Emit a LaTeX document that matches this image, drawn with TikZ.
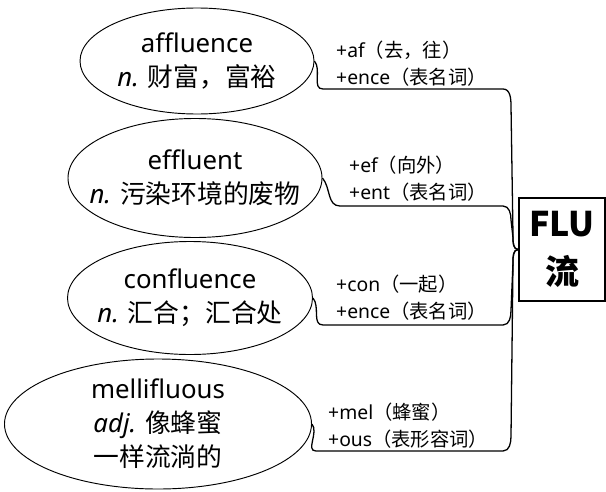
\documentclass[tikz,border=0pt]{standalone}
\usepackage{fontspec}
\setmainfont{Noto Sans}
\newfontfamily\cjk{Noto Sans CJK SC}
\newcommand{\zh}[1]{{\cjk #1}}
\usepackage{tikz}
\usetikzlibrary{shapes.geometric}
\tikzset{
    word/.style={ellipse, draw=black, line width=0.8pt, inner sep=0pt},
    wordtext/.style={align=center, inner sep=0pt, font=\fontsize{22}{29}\selectfont},
    part/.style={anchor=west, align=left, inner sep=0pt, font=\fontsize{16.5}{23}\selectfont},
    root/.style={rectangle, draw=black, line width=1.2pt, align=center, inner sep=0pt, font=\cjk\bfseries\fontsize{29}{41}\selectfont},
    branch/.style={line width=1.1pt}
}

\begin{document}
\begin{tikzpicture}[x=0.3mm, y=-0.3mm]
    \useasboundingbox (0,0) rectangle (606,491);

    \node (flu) [root, minimum width=25.8mm, minimum height=30.9mm] at (562,249.5) {FLU\\流};

    \node (aff) [word, minimum width=70.2mm, minimum height=31.8mm,
        label={[wordtext]center:{affluence\\\textit{n.} \zh{财富，富裕}}}] at (197,61) {};
    \node (eff) [word, minimum width=76.2mm, minimum height=35.7mm,
        label={[wordtext]center:{effluent\\\textit{n.} \zh{污染环境的废物}}}] at (195,178) {};
    \node (con) [word, minimum width=73.5mm, minimum height=33.9mm,
        label={[wordtext]center:{confluence\\\textit{n.} \zh{汇合；汇合处}}}] at (190,298) {};
    \node (mel) [word, minimum width=92.1mm, minimum height=39mm,
        label={[wordtext]center:{mellifluous\\\textit{adj.} \zh{像蜂蜜}\\\zh{一样流淌的}}}] at (158,424) {};

    \node (affpart) [part] at (336,64) {+af\zh{（去，往）}\\+ence\zh{（表名词）}};
    \node (effpart) [part] at (349,179) {+ef\zh{（向外）}\\+ent\zh{（表名词）}};
    \node (conpart) [part] at (336,298) {+con\zh{（一起）}\\+ence\zh{（表名词）}};
    \node (melpart) [part] at (328,426) {+mel\zh{（蜂蜜）}\\+ous\zh{（表形容词）}};

    \coordinate (a1) at (323,89);   \coordinate (a2) at (503,89);
    \coordinate (e1) at (340,206);  \coordinate (e2) at (503,206);
    \coordinate (c1) at (323,325);  \coordinate (c2) at (503,325);
    \coordinate (m1) at (316,451);  \coordinate (m2) at (503,451);

    \draw [branch] (aff.east) to[out=-50,in=180] (a1) -- (a2) to[out=0,in=90] (511,106)
        -- (513,236) to[out=-90,in=180] (flu.west);
    \draw [branch] (eff.east) to[out=-50,in=180] (e1) -- (e2) to[out=0,in=90] (511,220)
        -- (513,238) to[out=-90,in=180] (flu.west);
    \draw [branch] (con.east) to[out=-50,in=180] (c1) -- (c2) to[out=0,in=-90] (511,310)
        -- (513,262) to[out=90,in=180] (flu.west);
    \draw [branch] (mel.east) to[out=-50,in=180] (m1) -- (m2) to[out=0,in=-90] (511,436)
        -- (513,262) to[out=90,in=180] (flu.west);
\end{tikzpicture}
\end{document}
